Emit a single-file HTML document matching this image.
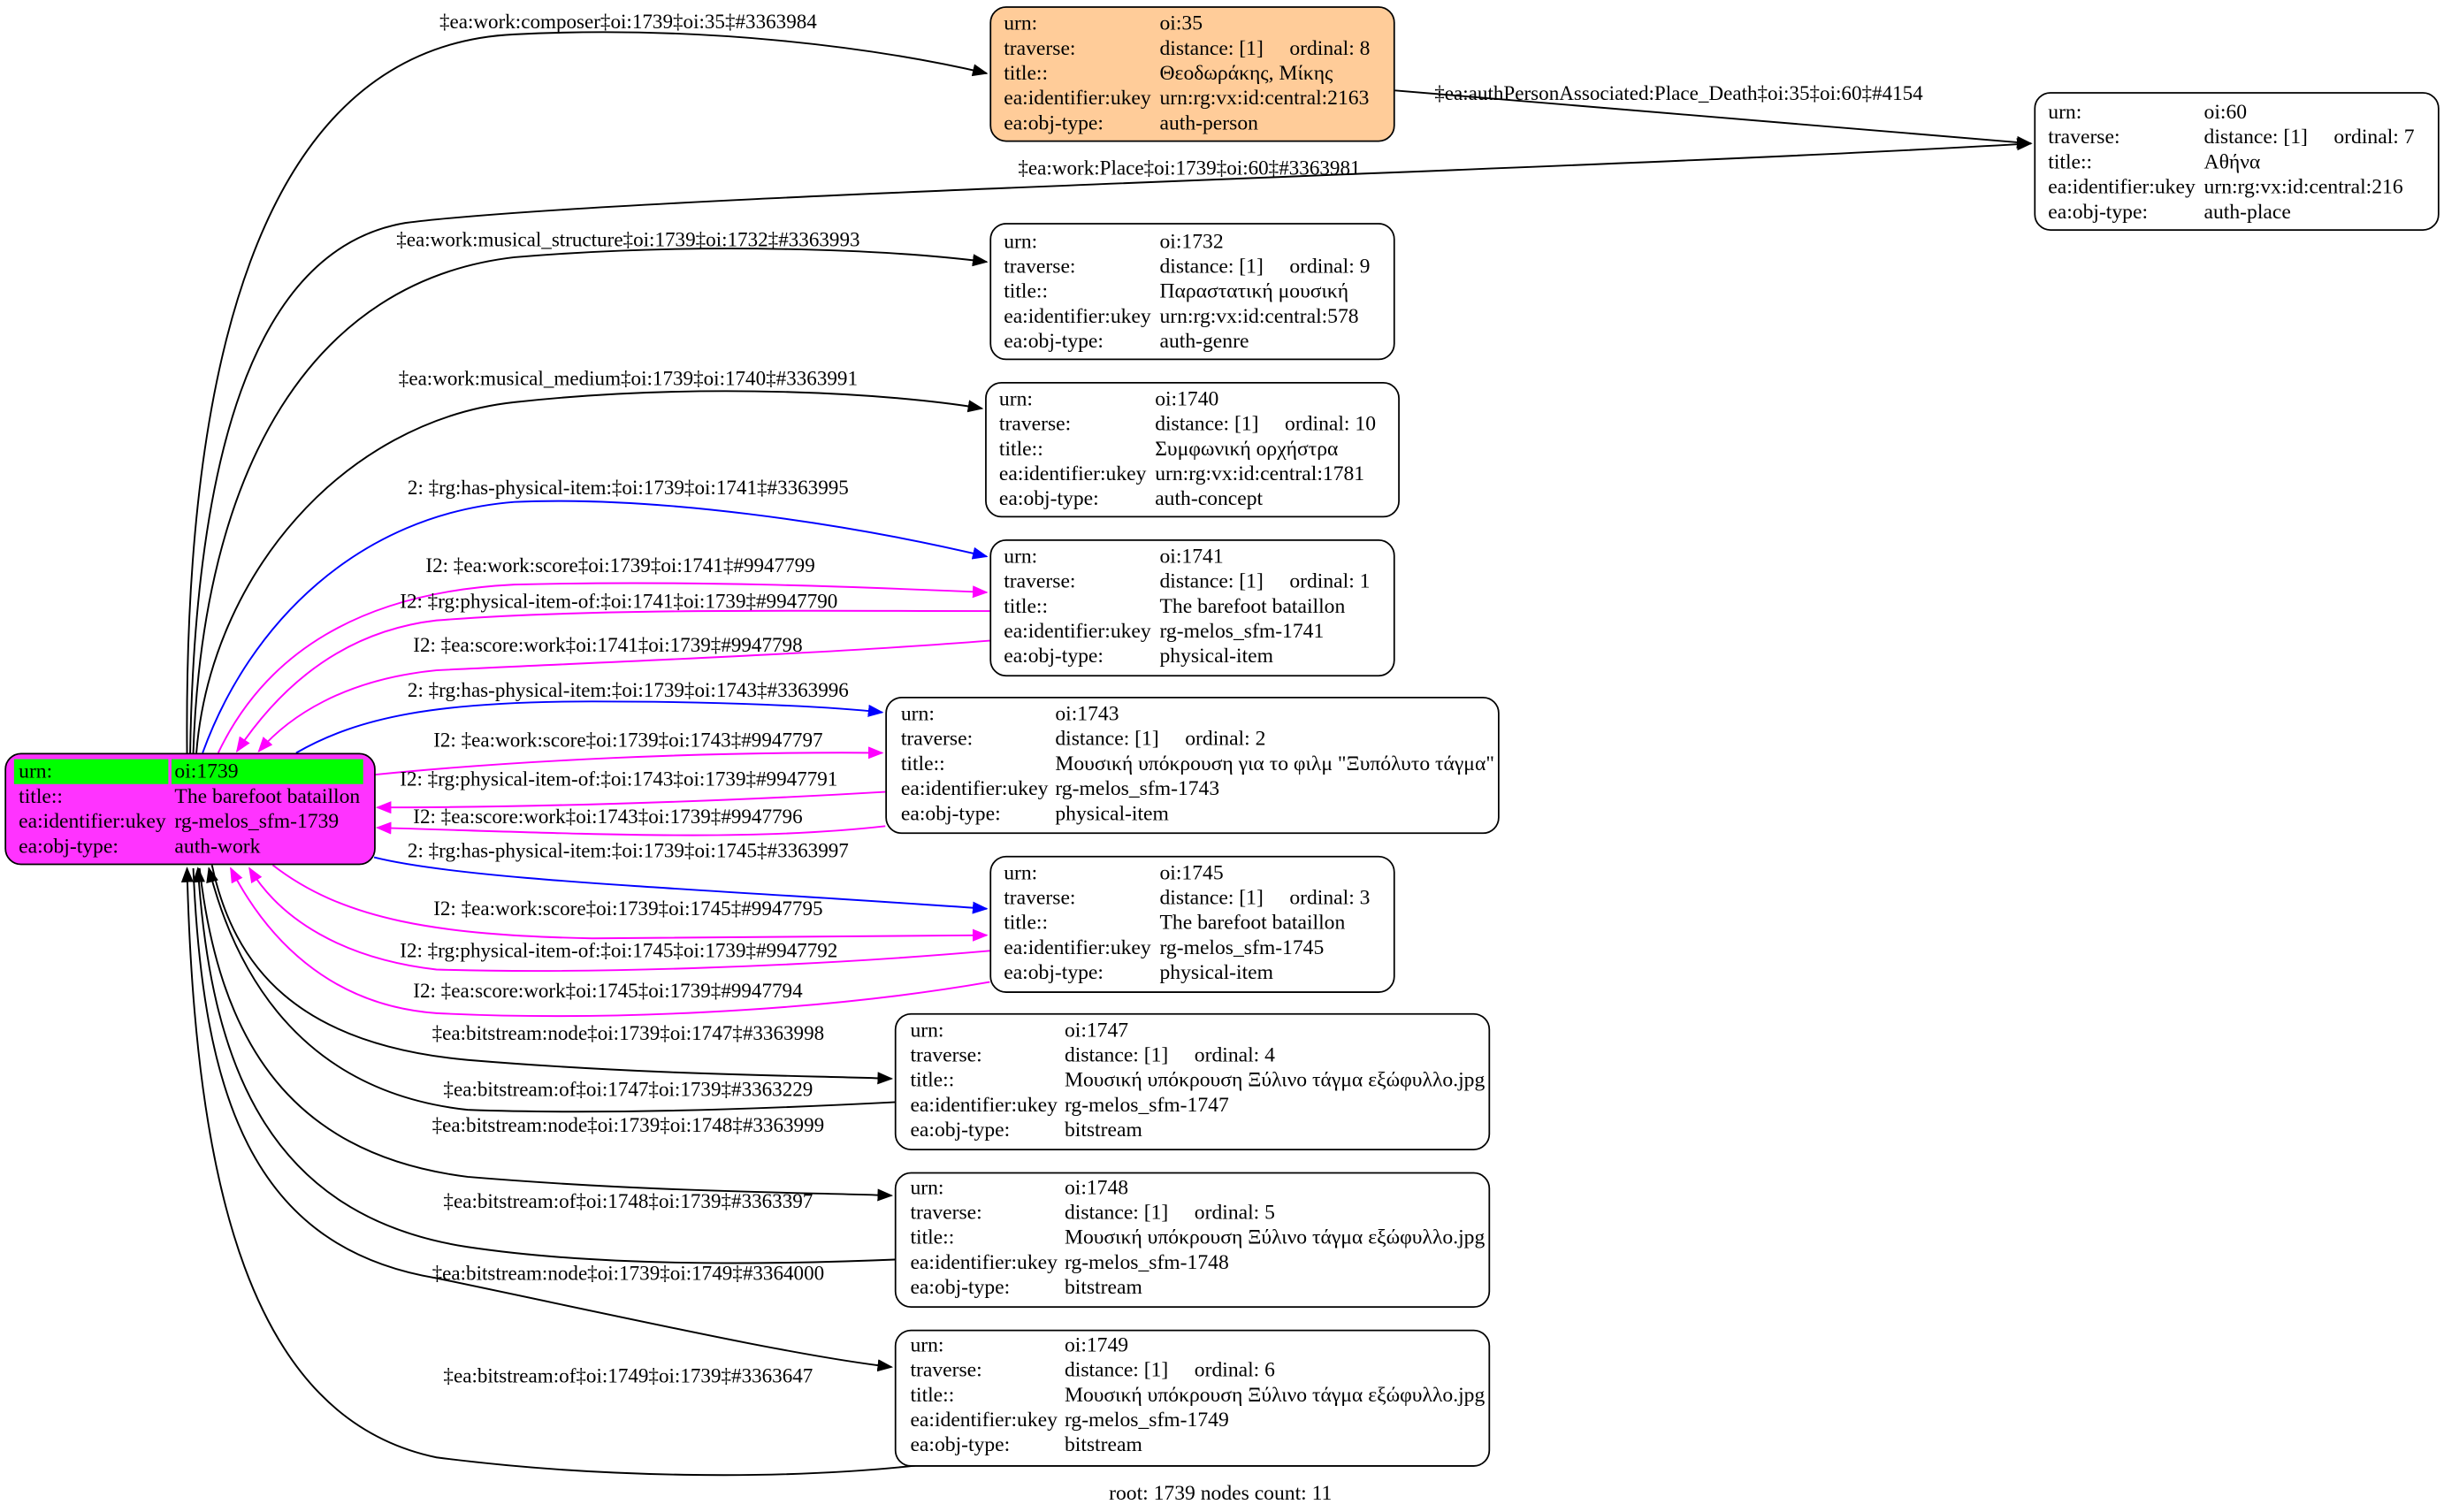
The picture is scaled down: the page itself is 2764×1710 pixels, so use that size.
<!DOCTYPE html>
<html><head><meta charset="utf-8"><style>
html,body{margin:0;padding:0;background:#fff;}
svg{display:block;}
text{font-family:"Liberation Serif","DejaVu Serif",serif;font-size:13.4px;fill:#000;}
.e{font-size:13.1px;}
</style></head><body>
<svg width="2764" height="1710" viewBox="0 0 1568 970" xmlns="http://www.w3.org/2000/svg">
<defs>
<marker id="ak" markerUnits="userSpaceOnUse" markerWidth="10" markerHeight="8" refX="9" refY="4" orient="auto"><path d="M0,0 L10,4 L0,8 z" fill="#000"/></marker>
<marker id="ab" markerUnits="userSpaceOnUse" markerWidth="10" markerHeight="8" refX="9" refY="4" orient="auto"><path d="M0,0 L10,4 L0,8 z" fill="#00f"/></marker>
<marker id="am" markerUnits="userSpaceOnUse" markerWidth="10" markerHeight="8" refX="9" refY="4" orient="auto"><path d="M0,0 L10,4 L0,8 z" fill="#f0f"/></marker>
</defs>
<g fill="none" stroke-width="1.1">
<path stroke="#000" marker-end="url(#ak)" d="M120,483 C118,250 160,30 330,22 C450,16 560,30 633,47"/>
<path stroke="#000" marker-end="url(#ak)" d="M122,483 C125,300 160,160 260,143 C400,125 1000,110 1303,92"/>
<path stroke="#000" marker-end="url(#ak)" d="M895,58 L1303,92"/>
<path stroke="#000" marker-end="url(#ak)" d="M124,483 C130,300 200,180 330,165 C450,155 570,160 633,168"/>
<path stroke="#000" marker-end="url(#ak)" d="M126,483 C135,370 220,270 330,258 C450,245 570,252 630,262"/>
<path stroke="#00f" marker-end="url(#ab)" d="M130,483 C160,400 230,330 330,322 C420,318 540,335 633,357"/>
<path stroke="#f0f" marker-end="url(#am)" d="M140,483 C170,420 230,380 330,375 C450,372 560,377 633,380"/>
<path stroke="#f0f" marker-end="url(#am)" d="M635,392 C520,392 380,390 280,398 C220,405 180,440 152,482"/>
<path stroke="#f0f" marker-end="url(#am)" d="M635,411 C520,420 380,425 280,430 C220,436 185,460 166,482"/>
<path stroke="#00f" marker-end="url(#ab)" d="M190,483 C230,460 280,450 380,450 C460,450 530,453 566,457"/>
<path stroke="#f0f" marker-end="url(#am)" d="M240,497 C330,488 450,482 566,483"/>
<path stroke="#f0f" marker-end="url(#am)" d="M568,508 C450,515 330,518 242,518"/>
<path stroke="#f0f" marker-end="url(#am)" d="M568,530 C480,540 380,535 242,531"/>
<path stroke="#00f" marker-end="url(#ab)" d="M240,550 C300,565 450,570 633,583"/>
<path stroke="#f0f" marker-end="url(#am)" d="M175,555 C220,590 280,600 380,602 C480,602 580,600 633,600"/>
<path stroke="#f0f" marker-end="url(#am)" d="M635,610 C520,620 380,625 280,622 C220,615 180,590 160,557"/>
<path stroke="#f0f" marker-end="url(#am)" d="M635,630 C520,650 380,655 280,650 C210,645 170,600 148,557"/>
<path stroke="#000" marker-end="url(#ak)" d="M136,555 C150,620 190,670 300,680 C420,690 520,690 572,692"/>
<path stroke="#000" marker-end="url(#ak)" d="M576,707 C480,712 380,715 300,712 C190,700 150,620 134,557"/>
<path stroke="#000" marker-end="url(#ak)" d="M128,557 C140,660 180,740 300,755 C420,765 520,765 572,767"/>
<path stroke="#000" marker-end="url(#ak)" d="M576,808 C480,812 380,812 300,800 C170,780 135,680 127,557"/>
<path stroke="#000" marker-end="url(#ak)" d="M124,557 C130,700 160,800 280,820 C400,845 510,870 572,877"/>
<path stroke="#000" marker-end="url(#ak)" d="M590,940 C500,950 380,948 280,935 C160,910 125,760 120,557"/>
</g>
<g class="e" text-anchor="middle">
<text class="e" x="403" y="18">‡ea:work:composer‡oi:1739‡oi:35‡#3363984</text>
<text class="e" x="1077" y="64">‡ea:authPersonAssociated:Place_Death‡oi:35‡oi:60‡#4154</text>
<text class="e" x="763" y="112">‡ea:work:Place‡oi:1739‡oi:60‡#3363981</text>
<text class="e" x="403" y="158">‡ea:work:musical_structure‡oi:1739‡oi:1732‡#3363993</text>
<text class="e" x="403" y="247">‡ea:work:musical_medium‡oi:1739‡oi:1740‡#3363991</text>
<text class="e" x="403" y="317">2: ‡rg:has-physical-item:‡oi:1739‡oi:1741‡#3363995</text>
<text class="e" x="398" y="367">I2: ‡ea:work:score‡oi:1739‡oi:1741‡#9947799</text>
<text class="e" x="397" y="390">I2: ‡rg:physical-item-of:‡oi:1741‡oi:1739‡#9947790</text>
<text class="e" x="390" y="418">I2: ‡ea:score:work‡oi:1741‡oi:1739‡#9947798</text>
<text class="e" x="403" y="447">2: ‡rg:has-physical-item:‡oi:1739‡oi:1743‡#3363996</text>
<text class="e" x="403" y="479">I2: ‡ea:work:score‡oi:1739‡oi:1743‡#9947797</text>
<text class="e" x="397" y="504">I2: ‡rg:physical-item-of:‡oi:1743‡oi:1739‡#9947791</text>
<text class="e" x="390" y="528">I2: ‡ea:score:work‡oi:1743‡oi:1739‡#9947796</text>
<text class="e" x="403" y="550">2: ‡rg:has-physical-item:‡oi:1739‡oi:1745‡#3363997</text>
<text class="e" x="403" y="587">I2: ‡ea:work:score‡oi:1739‡oi:1745‡#9947795</text>
<text class="e" x="397" y="614">I2: ‡rg:physical-item-of:‡oi:1745‡oi:1739‡#9947792</text>
<text class="e" x="390" y="640">I2: ‡ea:score:work‡oi:1745‡oi:1739‡#9947794</text>
<text class="e" x="403" y="667">‡ea:bitstream:node‡oi:1739‡oi:1747‡#3363998</text>
<text class="e" x="403" y="703">‡ea:bitstream:of‡oi:1747‡oi:1739‡#3363229</text>
<text class="e" x="403" y="726">‡ea:bitstream:node‡oi:1739‡oi:1748‡#3363999</text>
<text class="e" x="403" y="775">‡ea:bitstream:of‡oi:1748‡oi:1739‡#3363397</text>
<text class="e" x="403" y="821">‡ea:bitstream:node‡oi:1739‡oi:1749‡#3364000</text>
<text class="e" x="403" y="887">‡ea:bitstream:of‡oi:1749‡oi:1739‡#3363647</text>
<text x="783" y="962">root: 1739 nodes count: 11</text>
</g>
<rect x="3.5" y="483.5" width="237" height="71" rx="10" fill="#ff33ff" stroke="#000"/>
<rect x="9" y="487" width="99" height="16" fill="#00ff00"/>
<rect x="110" y="487" width="123" height="16" fill="#00ff00"/>
<text x="12" y="499">urn:</text><text x="112" y="499">oi:1739</text>
<text x="12" y="515">title::</text><text x="112" y="515">The barefoot bataillon</text>
<text x="12" y="531">ea:identifier:ukey</text><text x="112" y="531">rg-melos_sfm-1739</text>
<text x="12" y="547">ea:obj-type:</text><text x="112" y="547">auth-work</text>
<rect x="635.5" y="4.5" width="259" height="86" rx="10" fill="#ffcc99" stroke="#000"/>
<g transform="translate(644,19)">
<text y="0">urn:</text><text x="100" y="0">oi:35</text>
<text y="16">traverse:</text><text x="100" y="16">distance: [1]&#160;&#160;&#160;&#160; ordinal: 8</text>
<text y="32">title::</text><text x="100" y="32">Θεοδωράκης, Μίκης</text>
<text y="48">ea:identifier:ukey</text><text x="100" y="48">urn:rg:vx:id:central:2163</text>
<text y="64">ea:obj-type:</text><text x="100" y="64">auth-person</text>
</g>
<rect x="1305.5" y="59.5" width="259" height="88" rx="10" fill="#fff" stroke="#000"/>
<g transform="translate(1314,76)">
<text y="0">urn:</text><text x="100" y="0">oi:60</text>
<text y="16">traverse:</text><text x="100" y="16">distance: [1]&#160;&#160;&#160;&#160; ordinal: 7</text>
<text y="32">title::</text><text x="100" y="32">Αθήνα</text>
<text y="48">ea:identifier:ukey</text><text x="100" y="48">urn:rg:vx:id:central:216</text>
<text y="64">ea:obj-type:</text><text x="100" y="64">auth-place</text>
</g>
<rect x="635.5" y="143.5" width="259" height="87" rx="10" fill="#fff" stroke="#000"/>
<g transform="translate(644,159)">
<text y="0">urn:</text><text x="100" y="0">oi:1732</text>
<text y="16">traverse:</text><text x="100" y="16">distance: [1]&#160;&#160;&#160;&#160; ordinal: 9</text>
<text y="32">title::</text><text x="100" y="32">Παραστατική μουσική</text>
<text y="48">ea:identifier:ukey</text><text x="100" y="48">urn:rg:vx:id:central:578</text>
<text y="64">ea:obj-type:</text><text x="100" y="64">auth-genre</text>
</g>
<rect x="632.5" y="245.5" width="265" height="86" rx="10" fill="#fff" stroke="#000"/>
<g transform="translate(641,260)">
<text y="0">urn:</text><text x="100" y="0">oi:1740</text>
<text y="16">traverse:</text><text x="100" y="16">distance: [1]&#160;&#160;&#160;&#160; ordinal: 10</text>
<text y="32">title::</text><text x="100" y="32">Συμφωνική ορχήστρα</text>
<text y="48">ea:identifier:ukey</text><text x="100" y="48">urn:rg:vx:id:central:1781</text>
<text y="64">ea:obj-type:</text><text x="100" y="64">auth-concept</text>
</g>
<rect x="635.5" y="346.5" width="259" height="87" rx="10" fill="#fff" stroke="#000"/>
<g transform="translate(644,361)">
<text y="0">urn:</text><text x="100" y="0">oi:1741</text>
<text y="16">traverse:</text><text x="100" y="16">distance: [1]&#160;&#160;&#160;&#160; ordinal: 1</text>
<text y="32">title::</text><text x="100" y="32">The barefoot bataillon</text>
<text y="48">ea:identifier:ukey</text><text x="100" y="48">rg-melos_sfm-1741</text>
<text y="64">ea:obj-type:</text><text x="100" y="64">physical-item</text>
</g>
<rect x="568.5" y="447.5" width="393" height="87" rx="10" fill="#fff" stroke="#000"/>
<g transform="translate(578,462)">
<text y="0">urn:</text><text x="99" y="0">oi:1743</text>
<text y="16">traverse:</text><text x="99" y="16">distance: [1]&#160;&#160;&#160;&#160; ordinal: 2</text>
<text y="32">title::</text><text x="99" y="32">Μουσική υπόκρουση για το φιλμ "Ξυπόλυτο τάγμα"</text>
<text y="48">ea:identifier:ukey</text><text x="99" y="48">rg-melos_sfm-1743</text>
<text y="64">ea:obj-type:</text><text x="99" y="64">physical-item</text>
</g>
<rect x="635.5" y="549.5" width="259" height="87" rx="10" fill="#fff" stroke="#000"/>
<g transform="translate(644,564)">
<text y="0">urn:</text><text x="100" y="0">oi:1745</text>
<text y="16">traverse:</text><text x="100" y="16">distance: [1]&#160;&#160;&#160;&#160; ordinal: 3</text>
<text y="32">title::</text><text x="100" y="32">The barefoot bataillon</text>
<text y="48">ea:identifier:ukey</text><text x="100" y="48">rg-melos_sfm-1745</text>
<text y="64">ea:obj-type:</text><text x="100" y="64">physical-item</text>
</g>
<rect x="574.5" y="650.5" width="381" height="87" rx="10" fill="#fff" stroke="#000"/>
<g transform="translate(584,665)">
<text y="0">urn:</text><text x="99" y="0">oi:1747</text>
<text y="16">traverse:</text><text x="99" y="16">distance: [1]&#160;&#160;&#160;&#160; ordinal: 4</text>
<text y="32">title::</text><text x="99" y="32">Μουσική υπόκρουση Ξύλινο τάγμα εξώφυλλο.jpg</text>
<text y="48">ea:identifier:ukey</text><text x="99" y="48">rg-melos_sfm-1747</text>
<text y="64">ea:obj-type:</text><text x="99" y="64">bitstream</text>
</g>
<rect x="574.5" y="752.5" width="381" height="86" rx="10" fill="#fff" stroke="#000"/>
<g transform="translate(584,766)">
<text y="0">urn:</text><text x="99" y="0">oi:1748</text>
<text y="16">traverse:</text><text x="99" y="16">distance: [1]&#160;&#160;&#160;&#160; ordinal: 5</text>
<text y="32">title::</text><text x="99" y="32">Μουσική υπόκρουση Ξύλινο τάγμα εξώφυλλο.jpg</text>
<text y="48">ea:identifier:ukey</text><text x="99" y="48">rg-melos_sfm-1748</text>
<text y="64">ea:obj-type:</text><text x="99" y="64">bitstream</text>
</g>
<rect x="574.5" y="853.5" width="381" height="87" rx="10" fill="#fff" stroke="#000"/>
<g transform="translate(584,867)">
<text y="0">urn:</text><text x="99" y="0">oi:1749</text>
<text y="16">traverse:</text><text x="99" y="16">distance: [1]&#160;&#160;&#160;&#160; ordinal: 6</text>
<text y="32">title::</text><text x="99" y="32">Μουσική υπόκρουση Ξύλινο τάγμα εξώφυλλο.jpg</text>
<text y="48">ea:identifier:ukey</text><text x="99" y="48">rg-melos_sfm-1749</text>
<text y="64">ea:obj-type:</text><text x="99" y="64">bitstream</text>
</g>
</svg>
</body></html>
